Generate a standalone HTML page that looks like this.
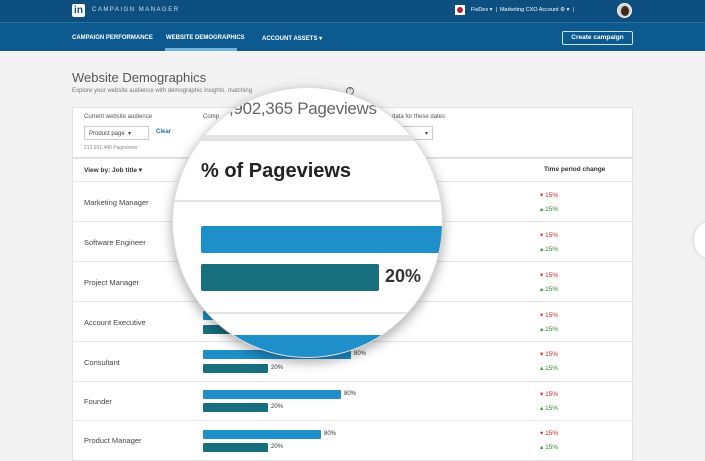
<!DOCTYPE html>
<html><head><style>
*{margin:0;padding:0;box-sizing:border-box}
body{width:705px;height:461px;overflow:hidden;background:#f3f3f3;font-family:"Liberation Sans",sans-serif;position:relative;color:#333}
.a{position:absolute}
.top{left:0;top:0;width:705px;height:22px;background:#0d4f80}
.nav{left:0;top:22px;width:705px;height:29px;background:#0c5a8f;border-top:1px solid #2b6d9c}
.nt{color:#fff;font-size:6px;font-weight:bold;top:35px}
.card{left:72px;top:107px;width:561px;height:354px;background:#fff;border:1px solid #e3e3e3}
.row{left:72px;width:561px;height:1px;background:#e6e6e6}
.lbl{left:84px;font-size:7.5px;color:#444}
.b1{left:203px;height:9px;background:#1e8fc9;border-radius:1px}
.b2{left:203px;width:65px;height:9px;background:#186f7e;border-radius:1px}
.pc{font-size:6px;color:#333}
.dn{left:540px;font-size:6.5px;color:#d9252f}
.up{left:540px;font-size:6.5px;color:#2f8a2f}
</style></head><body>
<div class="a top"></div>
<div class="a" style="left:72px;top:4px;width:13px;height:13px;background:#fff;border-radius:2px;color:#0d4f80;font-weight:bold;font-size:10px;text-align:center;line-height:13px">in</div>
<div class="a" style="left:92px;top:7px;color:#cfe0ee;font-size:6px;letter-spacing:1.5px">CAMPAIGN MANAGER</div>
<div class="a" style="left:455px;top:5px;width:10px;height:10px;background:#fff"><div style="margin:2px;width:6px;height:6px;background:#b01f3a;border-radius:50%"></div></div>
<div class="a" style="left:471px;top:7px;color:#fff;font-size:5.5px">FixDex ▾ &nbsp;|&nbsp; Marketing CXO Account ⚙ ▾ &nbsp;|</div>
<div class="a" style="left:617px;top:3px;width:15px;height:15px;border-radius:50%;background:#d8cfc8;border:1px solid #fff"><div style="margin:2px 3px;width:8px;height:10px;background:#3b2a22;border-radius:50%"></div></div>
<div class="a nav"></div>
<div class="a nt" style="left:72px">CAMPAIGN PERFORMANCE</div>
<div class="a nt" style="left:166px">WEBSITE DEMOGRAPHICS</div>
<div class="a nt" style="left:262px">ACCOUNT ASSETS ▾</div>
<div class="a" style="left:165px;top:48px;width:72px;height:3px;background:#6fb4e0"></div>
<div class="a" style="left:562px;top:31px;width:71px;height:14px;border:1px solid #cfe0ee;border-radius:2px;color:#fff;font-size:6.5px;font-weight:bold;text-align:center;line-height:12px">Create campaign</div>
<div class="a" style="left:72px;top:70px;font-size:13px;color:#555">Website Demographics</div>
<div class="a" style="left:72px;top:88px;font-size:6px;color:#777">Explore your website audience with demographic insights, matching</div>
<div class="a" style="left:346px;top:87px;width:8px;height:8px;border:1px solid #666;border-radius:50%;font-size:5px;text-align:center;line-height:6px;color:#666">?</div>
<div class="a card"></div>
<div class="a" style="left:84px;top:114px;font-size:6px;color:#555">Current website audience</div>
<div class="a" style="left:203px;top:114px;font-size:6px;color:#555">Comp</div>
<div class="a" style="left:84px;top:126px;width:65px;height:14px;border:1px solid #ccc;font-size:6px;padding:3px 4px;color:#444">Product page &nbsp;▾</div>
<div class="a" style="left:156px;top:129px;font-size:6px;color:#1b73b3;font-weight:bold">Clear</div>
<div class="a" style="left:84px;top:145px;font-size:5px;color:#888">213,931,440 Pageviews</div>
<div class="a" style="left:392px;top:114px;font-size:6px;color:#555">data for these dates</div>
<div class="a" style="left:395px;top:126px;width:38px;height:14px;border:1px solid #ccc;font-size:6px;padding:3px 4px;text-align:right;color:#444">▾</div>
<div class="a row" style="top:157px;height:2px;background:#e0e0e0"></div>
<div class="a" style="left:84px;top:166px;font-size:6.5px;font-weight:bold;color:#333">View by: Job title ▾</div>
<div class="a" style="left:544px;top:166px;font-size:6.5px;font-weight:bold;color:#333">Time period change</div>
<div class="a row" style="top:181px"></div>
<div class="a row" style="top:221px"></div><div class="a row" style="top:261px"></div><div class="a row" style="top:301px"></div><div class="a row" style="top:341px"></div><div class="a row" style="top:381px"></div><div class="a row" style="top:420px"></div>
<div class="a lbl" style="top:198px">Marketing Manager</div>
<div class="a lbl" style="top:238px">Software Engineer</div>
<div class="a lbl" style="top:278px">Project Manager</div>
<div class="a lbl" style="top:318px">Account Executive</div>
<div class="a lbl" style="top:358px">Consultant</div>
<div class="a lbl" style="top:397px">Founder</div>
<div class="a lbl" style="top:436px">Product Manager</div>
<div class="a b1" style="top:311px;width:60px"></div><div class="a b2" style="top:325px"></div>
<div class="a b1" style="top:350px;width:148px"></div><div class="a pc" style="left:354px;top:351px">80%</div>
<div class="a b2" style="top:364px"></div><div class="a pc" style="left:271px;top:365px">20%</div>
<div class="a b1" style="top:390px;width:138px"></div><div class="a pc" style="left:344px;top:391px">80%</div>
<div class="a b2" style="top:403px"></div><div class="a pc" style="left:271px;top:404px">20%</div>
<div class="a b1" style="top:430px;width:118px"></div><div class="a pc" style="left:324px;top:431px">80%</div>
<div class="a b2" style="top:443px"></div><div class="a pc" style="left:271px;top:444px">20%</div>
<div class="a dn" style="top:191px">▾ 15%</div><div class="a up" style="top:205px">▴ 15%</div>
<div class="a dn" style="top:231px">▾ 15%</div><div class="a up" style="top:245px">▴ 15%</div>
<div class="a dn" style="top:271px">▾ 15%</div><div class="a up" style="top:285px">▴ 15%</div>
<div class="a dn" style="top:311px">▾ 15%</div><div class="a up" style="top:325px">▴ 15%</div>
<div class="a dn" style="top:350px">▾ 15%</div><div class="a up" style="top:364px">▴ 15%</div>
<div class="a dn" style="top:390px">▾ 15%</div><div class="a up" style="top:404px">▴ 15%</div>
<div class="a dn" style="top:429px">▾ 15%</div><div class="a up" style="top:443px">▴ 15%</div>
<div class="a" style="left:694px;top:222px;width:30px;height:36px;border-radius:50%;background:#fff;box-shadow:0 0 4px #ccc"></div>
<div class="a" style="left:172px;top:87px;width:271px;height:271px;border-radius:50%;overflow:hidden;background:#fff;box-shadow:0 4px 12px rgba(0,0,0,.35);border:1px solid #ddd">
 <div class="a" style="left:56px;top:11px;font-size:17px;letter-spacing:-0.3px;color:#666;white-space:nowrap">,902,365 Pageviews</div>
 <div class="a" style="left:0;top:47px;width:271px;height:6px;background:#e4e4e4"></div>
 <div class="a" style="left:28px;top:72px;font-size:20px;font-weight:bold;color:#222">% of Pageviews</div>
 <div class="a" style="left:0;top:112px;width:271px;height:2px;background:#e2e2e2"></div>
 <div class="a" style="left:28px;top:138px;width:260px;height:27px;background:#1e8fc9;border-radius:2px"></div>
 <div class="a" style="left:28px;top:176px;width:178px;height:27px;background:#186f7e;border-radius:2px"></div>
 <div class="a" style="left:212px;top:178px;font-size:18px;font-weight:bold;color:#333">20%</div>
 <div class="a" style="left:0;top:224px;width:271px;height:2px;background:#e2e2e2"></div>
 <div class="a" style="left:0;top:247px;width:271px;height:30px;background:#1e8fc9"></div>
</div>
</body></html>
